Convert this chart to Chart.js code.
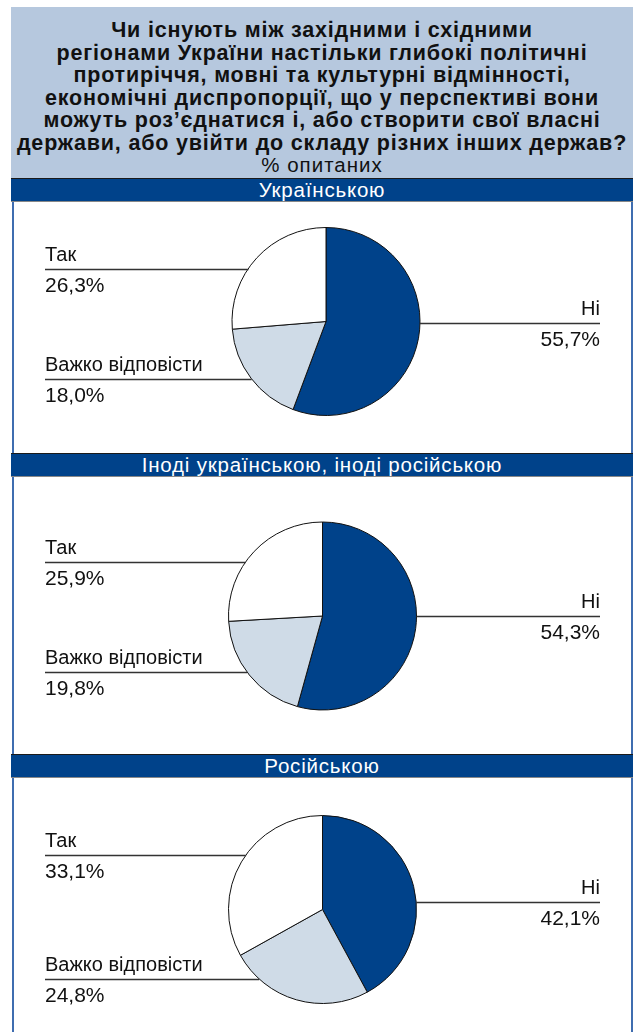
<!DOCTYPE html>
<html lang="uk">
<head>
<meta charset="utf-8">
<script src="https://cdn.jsdelivr.net/npm/chart.js@4.4.1/dist/chart.umd.min.js"></script>
<style>
  body {
    margin: 0;
    width: 636px;
    height: 1032px;
    position: relative;
    overflow: hidden;
    background: #fff;
    font-family: 'Liberation Sans', Arial, sans-serif;
    color: #111;
  }
  .title {
    position: absolute;
    left: 11px;
    top: 7px;
    width: 622px;
    height: 172px;
    background: #b6c8de;
    text-align: center;
    box-sizing: border-box;
    padding-top: 12px;
  }
  .title .q {
    font-weight: bold;
    font-size: 21.5px;
    line-height: 22.5px;
    letter-spacing: 0.8px;
    white-space: nowrap;
  }
  .title .sub {
    font-size: 20.5px;
    line-height: 22.5px;
    letter-spacing: 1px;
  }
  .bar {
    position: absolute;
    left: 11px;
    width: 622px;
    height: 22px;
    background: #00428a;
    border-top: 1px solid #1a1a1a;
    border-bottom: 1px solid #888;
    color: #fff;
    text-align: center;
    font-size: 20.5px;
    line-height: 22px;
    letter-spacing: 0.8px;
  }
  .side {
    position: absolute;
    top: 202px;
    width: 2px;
    height: 830px;
    background: #3f6db0;
  }
  canvas {
    position: absolute;
    left: 0;
  }
</style>
</head>
<body>

<div class="title">
  <div class="q">Чи існують між західними і східними<br>регіонами України настільки глибокі політичні<br>протиріччя, мовні та культурні відмінності,<br>економічні диспропорції, що у перспективі вони<br>можуть роз’єднатися і, або створити свої власні<br>держави, або увійти до складу різних інших держав?</div>
  <div class="sub">% опитаних</div>
</div>

<div class="side" style="left:12px"></div>
<div class="side" style="left:631px"></div>

<div class="bar" id="bar0" style="top:178px"></div>
<canvas id="pie0" width="636" height="251" style="top:202px"></canvas>

<div class="bar" id="bar1" style="top:453px"></div>
<canvas id="pie1" width="636" height="276" style="top:478px"></canvas>

<div class="bar" id="bar2" style="top:754px"></div>
<canvas id="pie2" width="636" height="254" style="top:778px"></canvas>

<script>
// Мова спілкування респондентів (заголовки панелей)
const panelTitles = ['Українською', 'Іноді українською, іноді російською', 'Російською'];

// Варіанти відповіді, за годинниковою стрілкою від 12-ї години
const categories = ['Ні', 'Важко відповісти', 'Так'];

// Частки відповідей, % опитаних
const ukrValues = [55.7, 18.0, 26.3];
const mixedValues = [54.3, 19.8, 25.9];
const rusValues = [42.1, 24.8, 33.1];

const sliceColors = ['#00428a', '#cfdbe7', '#ffffff'];

// Розміщення кожного кругу та висоти виносних ліній відносно центру
const panelLayouts = [
    { padding: { left: 16, right: 0, top: 0, bottom: 12 }, offsets: [1, 57.5, -53] },
    { padding: { left: 9, right: 0, top: 0, bottom: 0 }, offsets: [0, 56, -54] },
    { padding: { left: 9, right: 0, top: 9, bottom: 0 }, offsets: [-8, 69.5, -54.5] }
];

function formatPercent(v) {
    return v.toFixed(1).replace('.', ',') + '%';
}

// Підписи з виносними лініями до краю кругу
const leaderLabels = {
    id: 'leaderLabels',
    afterDatasetsDraw(chart, args, opts) {
        const ctx = chart.ctx;
        const arc = chart.getDatasetMeta(0).data[0];
        const cx = arc.x, cy = arc.y, r = arc.outerRadius;
        const values = chart.data.datasets[0].data;
        const labels = chart.data.labels;

        ctx.save();
        ctx.fillStyle = '#111';
        ctx.strokeStyle = '#333';
        ctx.lineWidth = 1.3;

        for (let i = 0; i < labels.length; i++) {
            const dy = opts.offsets[i];
            const y = cy + dy;
            const dx = Math.sqrt(Math.max(r * r - dy * dy, 0));
            let x0, x1, tx;
            if (i === 0) {
                x0 = cx + dx; x1 = opts.right; tx = opts.right;
                ctx.textAlign = 'right';
            } else {
                x0 = opts.left; x1 = cx - dx; tx = opts.left;
                ctx.textAlign = 'left';
            }
            ctx.beginPath();
            ctx.moveTo(x0, Math.round(y) + 0.5);
            ctx.lineTo(x1, Math.round(y) + 0.5);
            ctx.stroke();

            ctx.textBaseline = 'alphabetic';
            ctx.font = '20px "Liberation Sans", Arial, sans-serif';
            ctx.fillText(labels[i], tx, y - 8);
            ctx.font = '21px "Liberation Sans", Arial, sans-serif';
            ctx.fillText(formatPercent(values[i]), tx, y + 23);
        }
        ctx.restore();
    }
};

function plotarPie(index, values) {
    document.getElementById('bar' + index).textContent = panelTitles[index];
    const layout = panelLayouts[index];

    const config = {
        type: 'pie',
        data: {
            labels: categories,
            datasets: [{
                data: values,
                backgroundColor: sliceColors,
                borderColor: '#111',
                borderWidth: 1,
                radius: 94
            }]
        },
        options: {
            responsive: false,
            animation: false,
            layout: { padding: layout.padding },
            plugins: {
                legend: { display: false },
                tooltip: { enabled: false },
                leaderLabels: { offsets: layout.offsets, left: 45, right: 600 }
            }
        },
        plugins: [leaderLabels]
    };

    return new Chart(document.getElementById('pie' + index), config);
}

plotarPie(0, ukrValues);
plotarPie(1, mixedValues);
plotarPie(2, rusValues);
</script>
</body>
</html>
